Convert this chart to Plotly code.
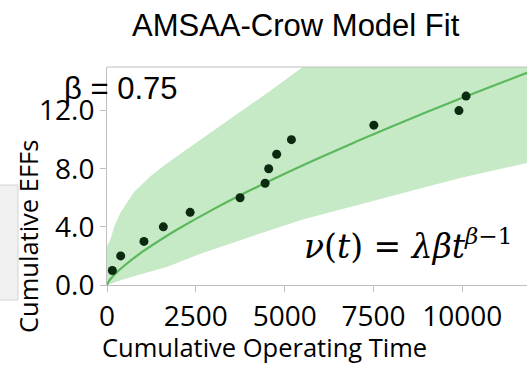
import plotly.graph_objects as go

# ---- data ----
t_obs = [150, 385, 1040, 1585, 2340, 3745, 4450, 4550, 4775, 5190, 7510, 9905, 10105]
eff_obs = [1, 2, 3, 4, 5, 6, 7, 8, 9, 10, 11, 12, 13]

t_fit = [0, 50, 100, 250, 500, 1000, 1500, 2000, 3000, 4000, 5000, 6000, 7000, 8000, 9000, 10000, 11000, 11820]
eff_fit = [0, 0.24, 0.41, 0.81, 1.36, 2.29, 3.10, 3.85, 5.22, 6.48, 7.66, 8.78, 9.85, 10.89, 11.90, 12.88, 13.83, 14.60]

t_band = [0, 60, 130, 200, 385, 760, 1230, 1700, 2630, 3570, 4500, 5510, 7000, 8600, 10000, 11820]
upper = [2.7, 2.95, 3.4, 4.0, 5.0, 6.4, 7.5, 8.4, 10.0, 11.6, 13.2, 15.0, 17.3, 19.6, 21.5, 24.0]
lower = [0, 0.06, 0.12, 0.18, 0.33, 0.6, 0.95, 1.25, 2.15, 2.95, 3.7, 4.5, 5.45, 6.5, 7.4, 8.4]

x_ticks = [0, 2500, 5000, 7500, 10000]
y_ticks = [0, 4, 8, 12]
y_ticklabels = ["0.0", "4.0", "8.0", "12.0"]

title_text = "AMSAA-Crow Model Fit"
x_title = "Cumulative Operating Time"
y_title = "Cumulative EFFs"
beta_text = "\u03b2 = 0.75"
formula_text = "<i>\u03bd</i>(<i>t</i>) = <i>\u03bb\u03b2t</i><sup><i>\u03b2</i>\u22121</sup>"

# ---- geometry ----
W, H = 527, 365
ML, MR, MT, MB = 107, 0, 67, 80
PW, PH = W - ML - MR, H - MT - MB


def px(x):
    return (x - ML) / PW


def py(y):
    return (H - MB - y) / PH


fig = go.Figure()

# confidence band
fig.add_trace(go.Scatter(
    x=t_band + t_band[::-1],
    y=upper + lower[::-1],
    fill="toself",
    fillcolor="#c6e9c6",
    line=dict(width=0),
    mode="lines",
    hoverinfo="skip",
    showlegend=False,
))

# fitted curve
fig.add_trace(go.Scatter(
    x=t_fit, y=eff_fit, mode="lines",
    line=dict(color="#5cb85c", width=2.2, shape="spline"),
    showlegend=False,
))

# observed points
fig.add_trace(go.Scatter(
    x=t_obs, y=eff_obs, mode="markers",
    marker=dict(color="#0c2a10", size=9),
    showlegend=False,
))

tick_font = dict(family="Open Sans", size=28, color="#000000")
fig.update_xaxes(
    range=[0, 11820], tickvals=x_ticks, ticktext=[str(v) for v in x_ticks],
    showline=True, linecolor="#bfbfbf", linewidth=1,
    ticks="outside", ticklen=6, tickcolor="#bfbfbf",
    showgrid=False, zeroline=False, tickfont=tick_font,
)
fig.update_yaxes(
    range=[0, 15], tickvals=y_ticks, ticktext=y_ticklabels,
    showline=True, linecolor="#bfbfbf", linewidth=1,
    ticks="outside", ticklen=6, tickcolor="#bfbfbf",
    showgrid=False, zeroline=False, tickfont=tick_font,
)

shapes = [
    # top frame line
    dict(type="line", xref="paper", yref="paper", x0=0, x1=1, y0=1, y1=1,
         line=dict(color="#bfbfbf", width=1)),
    # grey panel at the left edge
    dict(type="rect", xref="paper", yref="paper", layer="below",
         x0=px(-1), x1=px(18), y0=py(300), y1=py(185),
         fillcolor="#f0f0f0", line=dict(color="#d4d4d4", width=1)),
]

annotations = [
    dict(text=title_text, xref="paper", yref="paper", x=px(296), y=py(25),
         xanchor="center", yanchor="middle", showarrow=False,
         font=dict(family="Liberation Sans", size=31, color="#000000")),
    dict(text=beta_text, xref="paper", yref="paper", x=px(62), y=py(89),
         xanchor="left", yanchor="middle", showarrow=False,
         font=dict(family="Liberation Sans", size=31, color="#000000")),
    dict(text=x_title, xref="paper", yref="paper", x=px(264), y=py(347),
         xanchor="center", yanchor="middle", showarrow=False,
         font=dict(family="Open Sans", size=25.5, color="#000000")),
    dict(text=y_title, xref="paper", yref="paper", x=px(28), y=py(237),
         xanchor="center", yanchor="middle", showarrow=False, textangle=-90,
         font=dict(family="Open Sans", size=25.5, color="#000000")),
    dict(text=formula_text, xref="paper", yref="paper", x=px(301), y=py(244),
         xanchor="left", yanchor="middle", showarrow=False,
         bgcolor="#ffffff", borderpad=2,
         font=dict(family="DejaVu Serif", size=33, color="#000000")),
]

fig.update_layout(
    width=W, height=H,
    margin=dict(l=ML, r=MR, t=MT, b=MB),
    paper_bgcolor="#ffffff", plot_bgcolor="#ffffff",
    shapes=shapes, annotations=annotations,
    showlegend=False,
)

fig.write_html(
    "out.html",
    config={"displayModeBar": False},
    post_script="document.body.style.margin='0';document.body.style.overflow='hidden';",
)
